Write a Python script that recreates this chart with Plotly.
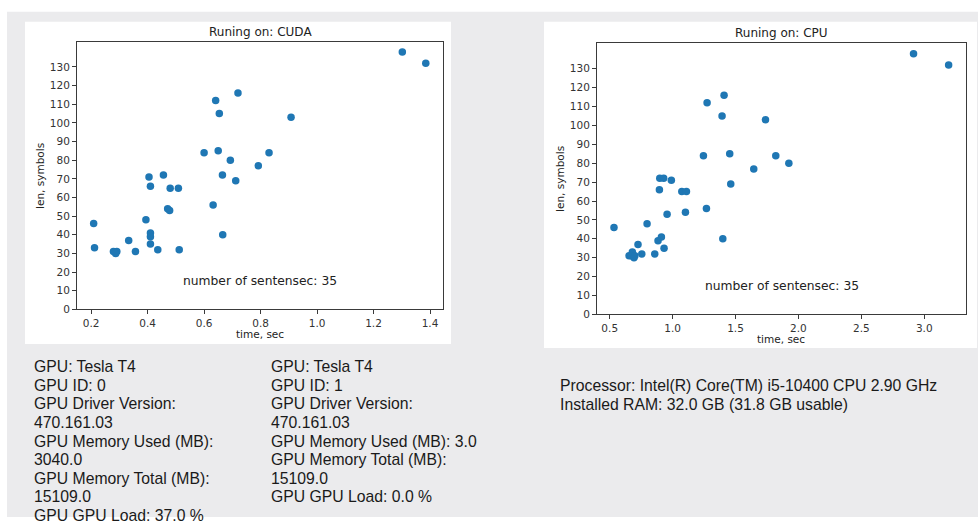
import plotly.graph_objects as go

W, H = 978, 523

# ---------------- data ----------------
cuda_time = [1.302, 1.385, 0.720, 0.641, 0.654, 0.908, 0.600, 0.650, 0.830, 0.693,
             0.792, 0.665, 0.712, 0.456, 0.405, 0.410, 0.480, 0.509, 0.632, 0.471,
             0.478, 0.394, 0.209, 0.410, 0.410, 0.666, 0.333, 0.410, 0.212, 0.436,
             0.512, 0.279, 0.291, 0.287, 0.357]
cuda_len = [138, 132, 116, 112, 105, 103, 84, 85, 84, 80,
            77, 72, 69, 72, 71, 66, 65, 65, 56, 54,
            53, 48, 46, 41, 39, 40, 37, 35, 33, 32,
            32, 31, 31, 30, 31]

cpu_time = [2.915, 3.194, 1.409, 1.274, 1.393, 1.738, 1.245, 1.454, 1.820, 1.924,
            1.645, 1.462, 0.898, 0.929, 0.990, 0.895, 1.073, 1.110, 1.269, 1.102,
            0.956, 0.797, 0.534, 0.911, 0.884, 1.399, 0.725, 0.932, 0.680, 0.755,
            0.858, 0.654, 0.672, 0.693, 0.700]
cpu_len = [138, 132, 116, 112, 105, 103, 84, 85, 84, 80,
           77, 69, 72, 72, 71, 66, 65, 65, 56, 54,
           53, 48, 46, 41, 39, 40, 37, 35, 33, 32,
           32, 31, 31, 30, 31]

y_ticks = list(range(0, 131, 10))
cuda_x_ticks = [0.2, 0.4, 0.6, 0.8, 1.0, 1.2, 1.4]
cpu_x_ticks = [0.5, 1.0, 1.5, 2.0, 2.5, 3.0]

gpu0_lines = ["GPU: Tesla T4", "GPU ID: 0", "GPU Driver Version:", "470.161.03",
              "GPU Memory Used (MB):", "3040.0", "GPU Memory Total (MB):", "15109.0",
              "GPU GPU Load: 37.0 %"]
gpu1_lines = ["GPU: Tesla T4", "GPU ID: 1", "GPU Driver Version:", "470.161.03",
              "GPU Memory Used (MB): 3.0", "GPU Memory Total (MB):", "15109.0",
              "GPU GPU Load: 0.0 %"]
cpu_lines = ["Processor: Intel(R) Core(TM) i5-10400 CPU 2.90 GHz",
             "Installed RAM: 32.0 GB (31.8 GB usable)"]

# ---------------- helpers ----------------
def fx(px):
    return px / W

def fy(py):
    return 1 - py / H

BLUE = "#1f77b4"
AX = "#3a3a3a"
MPL_FONT = "DejaVu Sans"
TXT_FONT = "Liberation Sans"

fig = go.Figure()

fig.add_trace(go.Scatter(x=cuda_time, y=cuda_len, mode="markers",
                         marker=dict(color=BLUE, size=7.5, line=dict(width=0)),
                         xaxis="x", yaxis="y", showlegend=False))
fig.add_trace(go.Scatter(x=cpu_time, y=cpu_len, mode="markers",
                         marker=dict(color=BLUE, size=7.5, line=dict(width=0)),
                         xaxis="x2", yaxis="y2", showlegend=False))

common_axis = dict(showline=True, linecolor=AX, linewidth=1, mirror=True,
                   ticks="outside", ticklen=4, tickcolor=AX, tickwidth=1,
                   showgrid=False, zeroline=False,
                   tickfont=dict(family=MPL_FONT, size=10.5, color="#333"))

# left plot: x 77..443, y 42..313 ; right plot: x 597..966, y 44..318
fig.update_layout(
    width=W, height=H,
    margin=dict(l=0, r=0, t=0, b=0, pad=0),
    paper_bgcolor="white", plot_bgcolor="white",
    xaxis=dict(domain=[fx(77), fx(443)], range=[0.150, 1.446], anchor="y",
               tickvals=cuda_x_ticks, tickformat=".1f", **common_axis),
    yaxis=dict(domain=[fy(313), fy(42)], range=[0, 143.6], anchor="x",
               tickvals=y_ticks, **common_axis),
    xaxis2=dict(domain=[fx(597), fx(966)], range=[0.399, 3.332], anchor="y2",
                tickvals=cpu_x_ticks, tickformat=".1f", **common_axis),
    yaxis2=dict(domain=[fy(318), fy(44)], range=[0, 143.4], anchor="x2",
                tickvals=y_ticks, **common_axis),
)

# background shapes
shapes = [
    dict(type="rect", xref="paper", yref="paper", x0=fx(7), x1=fx(978), y0=fy(523), y1=fy(12),
         fillcolor="#ebebed", line=dict(width=0), layer="below"),
    dict(type="rect", xref="paper", yref="paper", x0=fx(25), x1=fx(451), y0=fy(348), y1=fy(22),
         fillcolor="white", line=dict(width=0), layer="below"),
    dict(type="rect", xref="paper", yref="paper", x0=fx(544), x1=fx(977), y0=fy(352), y1=fy(22),
         fillcolor="white", line=dict(width=0), layer="below"),
]
fig.update_layout(shapes=shapes)

ann = []
def mpl_text(text, xpx, ypx, size, angle=0):
    ann.append(dict(text=text, x=fx(xpx), y=fy(ypx), xref="paper", yref="paper",
                    xanchor="center", yanchor="middle", showarrow=False, textangle=angle,
                    font=dict(family=MPL_FONT, size=size, color="#222")))

# titles, axis labels
mpl_text("Runing on: CUDA", 260, 32, 12)
mpl_text("Runing on: CPU", 781, 33, 12)
mpl_text("time, sec", 260, 338, 10.5)
mpl_text("time, sec", 781, 343, 10.5)
mpl_text("len, symbols", 40, 178, 10.5, -90)
mpl_text("len, symbols", 560, 181, 10.5, -90)

# in-axes text
for xr, yr in (("x domain", "y domain"), ("x2 domain", "y2 domain")):
    ann.append(dict(text="number of sentensec: 35", x=0.5, y=0.105, xref=xr, yref=yr,
                    xanchor="center", yanchor="middle", showarrow=False,
                    font=dict(family=MPL_FONT, size=12.3, color="#222")))

def text_block(lines, xpx, y0px, step):
    for i, t in enumerate(lines):
        ann.append(dict(text=t, x=fx(xpx), y=fy(y0px + i * step), xref="paper", yref="paper",
                        xanchor="left", yanchor="middle", showarrow=False,
                        font=dict(family=TXT_FONT, size=15.75, color="#1a1a1a")))

text_block(gpu0_lines, 32, 371, 18.8)
text_block(gpu1_lines, 269, 371, 18.8)
text_block(cpu_lines, 558, 390, 18.8)

fig.update_layout(annotations=ann)

fig.write_html("out.html", config={"displayModeBar": False},
               post_script="document.body.style.margin='0';document.body.style.overflow='hidden';")
